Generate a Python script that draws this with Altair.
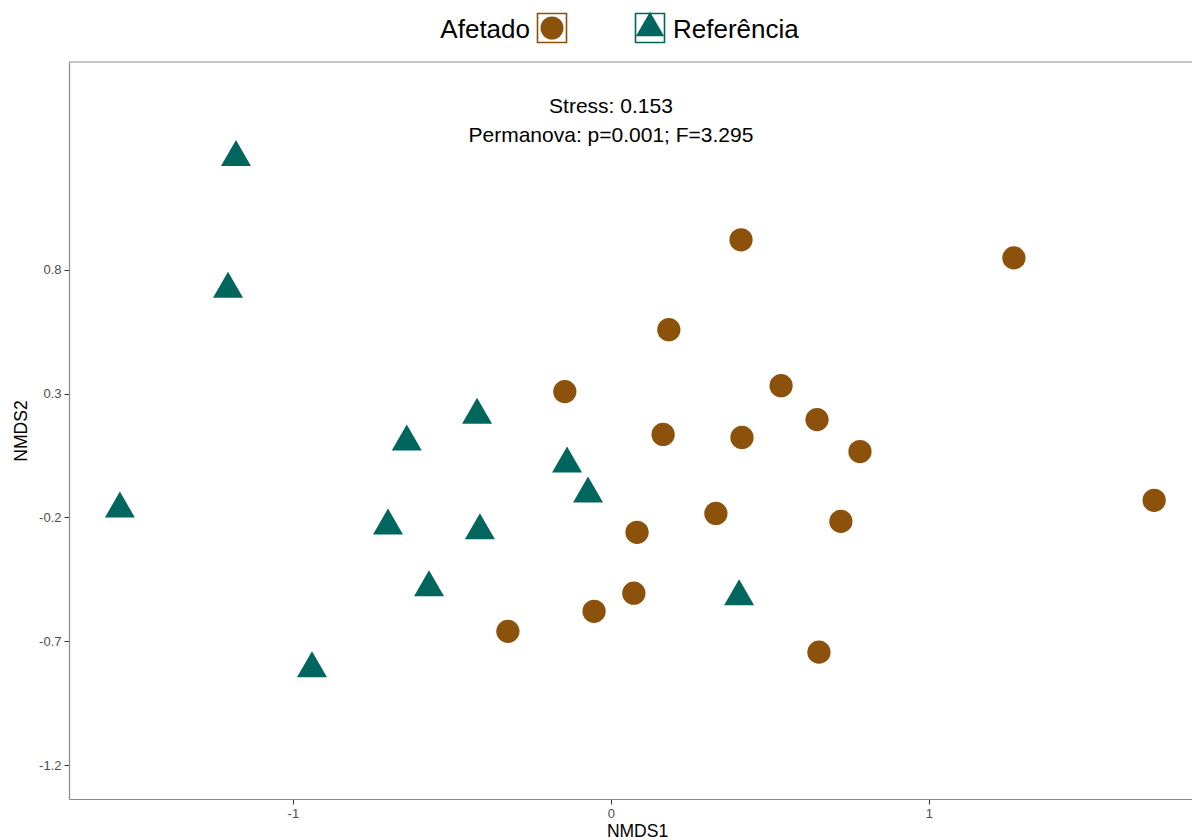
import altair as alt
import pandas as pd

# NMDS site scores per group
groups = ["Afetado", "Referência"]
colors = ["#8C510A", "#01665E"]
shapes = ["circle", "triangle-up"]

afetado_x = [0.409, 1.267, 0.182, -0.145, 0.535, 0.648, 0.164, 0.412, 0.783,
             1.708, 0.330, 0.723, 0.082, 0.072, -0.053, -0.324, 0.654]
afetado_y = [0.921, 0.848, 0.558, 0.308, 0.332, 0.195, 0.135, 0.123, 0.066,
             -0.131, -0.184, -0.216, -0.260, -0.506, -0.579, -0.660, -0.744]

ref_x = [-1.179, -1.204, -1.544, -0.642, -0.421, -0.138, -0.072, -0.701,
         -0.412, -0.572, -0.940, 0.403]
ref_y = [1.272, 0.740, -0.148, 0.123, 0.231, 0.034, -0.087, -0.216,
         -0.236, -0.466, -0.793, -0.502]

x_ticks = [-1, 0, 1]
y_ticks = [-1.2, -0.7, -0.2, 0.3, 0.8]
x_domain = [-1.704, 1.827]
y_domain = [-1.337, 1.639]

stats_lines = ["Stress: 0.153", "Permanova: p=0.001; F=3.295"]
stats_x = [0.0, 0.0]
stats_y = [1.433, 1.316]

FONT = "Liberation Sans"
W, H = 1123, 737

scores = pd.concat([
    pd.DataFrame({"NMDS1": afetado_x, "NMDS2": afetado_y, "grupo": groups[0]}),
    pd.DataFrame({"NMDS1": ref_x, "NMDS2": ref_y, "grupo": groups[1]}),
])

xs = alt.Scale(domain=x_domain, nice=False, zero=False)
ys = alt.Scale(domain=y_domain, nice=False, zero=False)
color_scale = alt.Scale(domain=groups, range=colors)

# plain ASCII hyphen for negative tick labels
tick_text = "'' + datum.value"

x_axis = alt.Axis(values=x_ticks, grid=False, title="NMDS1", labelExpr=tick_text,
                  labelFont=FONT, labelFontSize=13, labelColor="#4D4D4D", labelPadding=3,
                  titleFont=FONT, titleFontSize=17.5, titleFontWeight="normal", titleColor="#000000",
                  titleX=568, titlePadding=2,
                  domainColor="#8A8A8A", domainWidth=1.2, tickColor="#333333", tickSize=5)
y_axis = alt.Axis(values=y_ticks, grid=False, title="NMDS2", labelExpr=tick_text,
                  labelFont=FONT, labelFontSize=13, labelColor="#4D4D4D", labelPadding=3,
                  titleFont=FONT, titleFontSize=17.5, titleFontWeight="normal", titleColor="#000000",
                  titlePadding=8,
                  domainColor="#8A8A8A", domainWidth=1.2, tickColor="#333333", tickSize=5)

base = alt.Chart(scores)

circles = base.transform_filter(alt.datum.grupo == groups[0]).mark_point(
    filled=True, opacity=1, size=540, shape="circle"
).encode(
    x=alt.X("NMDS1:Q", scale=xs, axis=x_axis),
    y=alt.Y("NMDS2:Q", scale=ys, axis=y_axis),
    color=alt.Color("grupo:N", scale=color_scale, legend=None),
)

triangles = base.transform_filter(alt.datum.grupo == groups[1]).mark_point(
    filled=True, opacity=1, size=900, shape="triangle-up"
).encode(
    x=alt.X("NMDS1:Q", scale=xs),
    y=alt.Y("NMDS2:Q", scale=ys),
    color=alt.Color("grupo:N", scale=color_scale, legend=None),
)

stats = alt.Chart(pd.DataFrame({"t": stats_lines, "x": stats_x, "y": stats_y})).mark_text(
    font=FONT, fontSize=21, color="#000000", align="center", baseline="alphabetic"
).encode(
    x=alt.X("x:Q", scale=xs),
    y=alt.Y("y:Q", scale=ys),
    text="t:N",
)

one = pd.DataFrame({"k": [0]})

# panel top border (the right side runs past the page)
top_border = alt.Chart(one).mark_rule(color="#8A8A8A", strokeWidth=1.2).encode(
    x=alt.value(0), x2=alt.value(W), y=alt.value(0)
)

# legend above the panel: label, keyed box, symbol
leg_y = -34
legend_layers = [
    alt.Chart(one).mark_text(text=groups[0], font=FONT, fontSize=26, align="right",
                             baseline="alphabetic", color="#000000").encode(
        x=alt.value(461), y=alt.value(-24)),
    alt.Chart(one).mark_point(shape="square", size=841, filled=False, color=colors[0],
                              strokeWidth=1.6, opacity=1).encode(
        x=alt.value(483), y=alt.value(leg_y)),
    alt.Chart(one).mark_point(shape="circle", size=529, filled=True, color=colors[0],
                              opacity=1).encode(
        x=alt.value(483), y=alt.value(leg_y)),
    alt.Chart(one).mark_point(shape="square", size=841, filled=False, color=colors[1],
                              strokeWidth=1.6, opacity=1).encode(
        x=alt.value(581), y=alt.value(leg_y)),
    alt.Chart(one).mark_point(shape="triangle-up", size=800, filled=True, color=colors[1],
                              opacity=1).encode(
        x=alt.value(581), y=alt.value(-38)),
    alt.Chart(one).mark_text(text=groups[1], font=FONT, fontSize=26, align="left",
                             baseline="alphabetic", color="#000000").encode(
        x=alt.value(604), y=alt.value(-24)),
]

chart = alt.layer(
    top_border, circles, triangles, stats, *legend_layers
).properties(
    width=W, height=H,
    autosize=alt.AutoSizeParams(type="none"),
    padding={"left": 69, "top": 62, "right": 0, "bottom": 41},
    background="#FFFFFF",
).configure_view(stroke=None)

chart.save("out.html", embed_options={"renderer": "svg", "actions": False})
